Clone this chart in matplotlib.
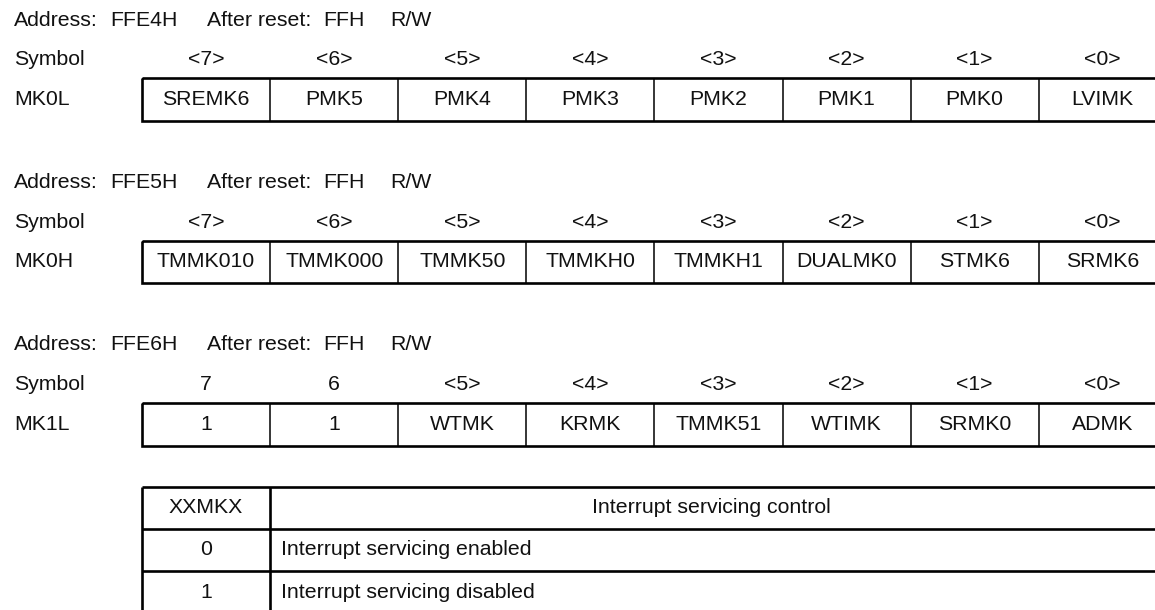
import matplotlib
matplotlib.use("Agg")
import matplotlib.pyplot as plt
from matplotlib.patches import Rectangle

plt.rcParams['font.family'] = ['Liberation Sans', 'DejaVu Sans']

# ---- data ----
reg_names = ["MK0L", "MK0H", "MK1L"]
reg_addresses = ["FFE4H", "FFE5H", "FFE6H"]
reset_values = ["FFH", "FFH", "FFH"]
access = ["R/W", "R/W", "R/W"]
bit_labels = [
    ["<7>", "<6>", "<5>", "<4>", "<3>", "<2>", "<1>", "<0>"],
    ["<7>", "<6>", "<5>", "<4>", "<3>", "<2>", "<1>", "<0>"],
    ["7", "6", "<5>", "<4>", "<3>", "<2>", "<1>", "<0>"],
]
cell_labels = [
    ["SREMK6", "PMK5", "PMK4", "PMK3", "PMK2", "PMK1", "PMK0", "LVIMK"],
    ["TMMK010", "TMMK000", "TMMK50", "TMMKH0", "TMMKH1", "DUALMK0", "STMK6", "SRMK6"],
    ["1", "1", "WTMK", "KRMK", "TMMK51", "WTIMK", "SRMK0", "ADMK"],
]
table_header = ["XXMKX", "Interrupt servicing control"]
table_values = ["0", "1"]
table_desc = ["Interrupt servicing enabled", "Interrupt servicing disabled"]

# ---- layout (pixels) ----
W, H = 1155, 610
fig = plt.figure(figsize=(W / 100, H / 100), dpi=100)
ax = fig.add_axes([0, 0, 1, 1])
ax.set_xlim(0, W)
ax.set_ylim(H, 0)
ax.axis('off')

FS = 15.3
TC = '#111111'
x0 = 142.0
cw = 128.1
section_top = [78, 240.5, 403]
row_h = 42.5
thick = 1.9
thin = 1.1

for i, name in enumerate(reg_names):
    top = section_top[i]
    ya = top - 58
    ys = top - 18.5
    yr = top + row_h / 2
    ax.text(14, ya, "Address:", fontsize=FS, va='center', ha='left', color=TC)
    ax.text(110, ya, reg_addresses[i], fontsize=FS, va='center', ha='left', color=TC)
    ax.text(207, ya, "After reset:", fontsize=FS, va='center', ha='left', color=TC)
    ax.text(323, ya, reset_values[i], fontsize=FS, va='center', ha='left', color=TC)
    ax.text(390, ya, access[i], fontsize=FS, va='center', ha='left', color=TC)
    ax.text(14, ys, "Symbol", fontsize=FS, va='center', ha='left', color=TC)
    ax.text(14, yr, name, fontsize=FS, va='center', ha='left', color=TC)
    for j in range(8):
        cx = x0 + cw * (j + 0.5)
        ax.text(cx, ys, bit_labels[i][j], fontsize=FS, va='center', ha='center', color=TC)
        ax.text(cx, yr, cell_labels[i][j], fontsize=FS, va='center', ha='center', color=TC)
        if j > 0:
            xx = x0 + cw * j
            ax.plot([xx, xx], [top, top + row_h], color='black', lw=thin, solid_capstyle='butt')
    ax.add_patch(Rectangle((x0, top), cw * 8, row_h, fill=False, lw=thick,
                           edgecolor='black', joinstyle='miter'))

# ---- bottom table ----
tt = 486.5
trh = 42.3
tx0 = 142
tdiv = 270
tright = 1170
nrows = 1 + len(table_values)
for r in range(nrows + 1):
    yy = tt + trh * r
    ax.plot([tx0, tright], [yy, yy], color='black', lw=thick, solid_capstyle='butt')
ax.plot([tx0, tx0], [tt, tt + trh * nrows], color='black', lw=thick, solid_capstyle='butt')
ax.plot([tdiv, tdiv], [tt, tt + trh * nrows], color='black', lw=thick, solid_capstyle='butt')

ax.text((tx0 + tdiv) / 2, tt + trh / 2, table_header[0], fontsize=FS, va='center', ha='center', color=TC)
ax.text(711, tt + trh / 2, table_header[1], fontsize=FS, va='center', ha='center', color=TC)
for r, (v, d) in enumerate(zip(table_values, table_desc)):
    yc = tt + trh * (r + 1.5)
    ax.text((tx0 + tdiv) / 2, yc, v, fontsize=FS, va='center', ha='center', color=TC)
    ax.text(281, yc, d, fontsize=FS, va='center', ha='left', color=TC)

fig.savefig("out.png", dpi=100)
